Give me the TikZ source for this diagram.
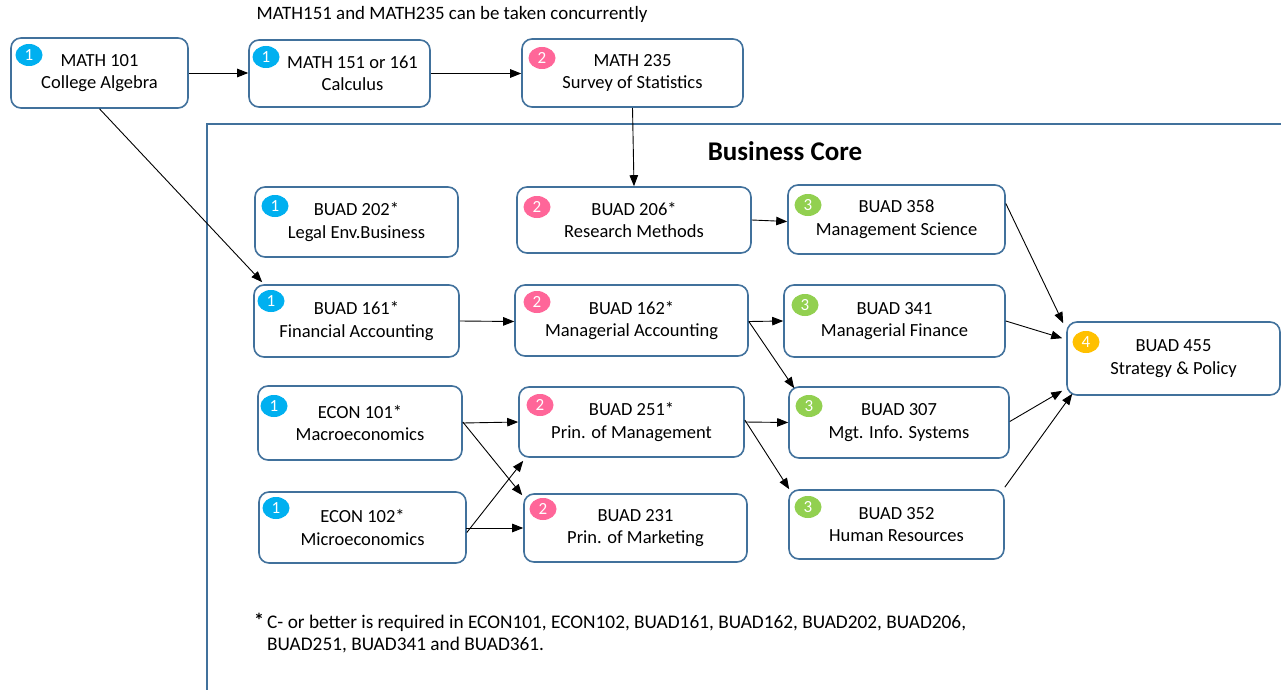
\documentclass[tikz,border=0pt]{standalone}
\usepackage{fontspec}
\setmainfont{Carlito}
\usetikzlibrary{arrows.meta,shapes.geometric}
\definecolor{boxblue}{HTML}{41719C}
\definecolor{bOne}{HTML}{00B0F0}
\definecolor{bTwo}{HTML}{FF6699}
\definecolor{bThree}{HTML}{92D050}
\definecolor{bFour}{HTML}{FFC000}
\tikzset{
  course/.style={draw=boxblue, line width=1.6pt, rounded corners=10pt, fill=white,
    align=center, inner sep=0pt, font=\fontsize{18.5}{22.5}\selectfont},
  badge/.style={ellipse, fill=#1, minimum width=27pt, minimum height=22pt, inner sep=0pt, text=white,
    font=\fontsize{17}{17}\selectfont},
  conn/.style={draw=black, line width=0.9pt, -{Triangle[length=11pt,width=8.5pt]}},
  frame/.style={draw=boxblue, line width=1.6pt}
}
\newcommand{\course}[6]{%
  % #1 name, #2 x1, #3 y1, #4 x2, #5 y2, #6 text
  \node[course, minimum width={#4-#2}, minimum height={#5-#3}] (#1) at ({(#2+#4)/2},{(#3+#5)/2}) {#6};
}
\newcommand{\badgeat}[4]{\node[badge=#2] (#1) at (#3) {#4};}
\begin{document}
\begin{tikzpicture}[x=1pt,y=-1pt]
\useasboundingbox (0,0) rectangle (1281,690);
\fill[white] (0,0) rectangle (1281,690);
% frame
\draw[frame] (1281,124) -- (207,124) -- (207,690);
\node[font=\fontsize{27}{27}\selectfont\bfseries] (title) at (785,151) {Business Core};
\node[font=\fontsize{18.9}{19}\selectfont] (note) at (452,14) {MATH151 and MATH235 can be taken concurrently};

\course{m101}{11}{38}{188}{108}{MATH 101\\College Algebra}
\course{m151}{249}{40}{430}{107}{\hspace*{26pt}MATH 151 or 161\\\hspace*{26pt}Calculus}
\course{m235}{522}{39}{743}{107}{MATH 235\\Survey of Statistics}
\course{b202}{255}{187}{458}{257}{BUAD 202*\\Legal Env.Business}
\course{b206}{517}{187}{751}{253}{BUAD 206*\\Research Methods}
\course{b358}{788}{185}{1005}{254}{BUAD 358\\Management Science}
\course{b161}{254}{285}{459}{357}{BUAD 161*\\Financial Accounting}
\course{b162}{515}{285}{748}{356}{BUAD 162*\\Managerial Accounting}
\course{b341}{784}{285}{1005}{357}{BUAD 341\\Managerial Finance}
\course{b455}{1067}{322}{1280}{395}{BUAD 455\\Strategy \& Policy}
\course{e101}{258}{386}{462}{460}{ECON 101*\\Macroeconomics}
\course{b251}{519}{387}{744}{457}{BUAD 251*\\Prin. of Management}
\course{b307}{789}{387}{1009}{458}{BUAD 307\\Mgt. Info. Systems}
\course{e102}{259}{492}{466}{563}{ECON 102*\\Microeconomics}
\course{b231}{524}{494}{747}{562}{BUAD 231\\Prin. of Marketing}
\course{b352}{789}{490}{1004}{559}{BUAD 352\\Human Resources}

\badgeat{bg1}{bOne}{29,55}{1}
\badgeat{bg2}{bOne}{266,57}{1}
\badgeat{bg3}{bTwo}{542,58}{2}
\badgeat{bg4}{bOne}{275,206}{1}
\badgeat{bg5}{bTwo}{537,207}{2}
\badgeat{bg6}{bThree}{808,205}{3}
\badgeat{bg7}{bOne}{271,301}{1}
\badgeat{bg8}{bTwo}{537,302}{2}
\badgeat{bg9}{bThree}{805,305}{3}
\badgeat{bg10}{bFour}{1086,342}{4}
\badgeat{bg11}{bOne}{274,406}{1}
\badgeat{bg12}{bTwo}{540,405}{2}
\badgeat{bg13}{bThree}{809,406}{3}
\badgeat{bg14}{bOne}{276,508}{1}
\badgeat{bg15}{bTwo}{543,509}{2}
\badgeat{bg16}{bThree}{808,507}{3}

% connectors
\draw[conn] (m101.east) -- (m151.west |- m101.east);
\draw[conn] (m151.east) -- (m235.west |- m151.east);
\draw[conn] (m101.south) -- ([xshift=9pt,yshift=2pt]b161.north west);
\draw[conn] (m235.south) -- (b206.north);
\draw[conn] (b206.east) -- ([yshift=-2pt]b358.west);
\draw[conn] (b161.east) -- ([yshift=-1pt]b162.west);
\draw[conn] ([yshift=-1pt]b162.east) -- (b341.west);
\draw[conn] ([yshift=-1pt]b162.east) -- ([xshift=6pt,yshift=-2pt]b307.north west);
\draw[conn] (e101.east) -- (b251.west);
\draw[conn] ([yshift=1pt]e101.east) -- ([xshift=-1pt,yshift=-2pt]b231.north west);
\draw[conn] ([yshift=-5pt]e102.east) -- ([xshift=5pt,yshift=-3pt]b251.south west);
\draw[conn] ([yshift=-1pt]e102.east) |- (b231.west);
\draw[conn] (b251.east) -- (b307.west);
\draw[conn] ([yshift=2pt]b251.east) -- ([xshift=1pt]b352.north west);
\draw[conn] ([yshift=16pt]b358.east) -- ([xshift=-3pt,yshift=-2pt]b455.north west);
\draw[conn] (b341.east) -- ([xshift=-4pt,yshift=-17pt]b455.north west);
\draw[conn] ([yshift=1pt]b307.east) -- ([xshift=-4pt,yshift=5pt]b455.south west);
\draw[conn] ([yshift=2pt]b352.north east) -- ([xshift=6pt,yshift=2pt]b455.south west);

% footnote
\node[anchor=north west, font=\fontsize{20}{22}\selectfont\bfseries, inner sep=0pt] (star) at (254,613) {*};
\node[anchor=north west, align=left, font=\fontsize{19.3}{22}\selectfont, inner sep=0pt] (foot) at (267,615)
  {C- or better is required in ECON101, ECON102, BUAD161, BUAD162, BUAD202, BUAD206,\\BUAD251, BUAD341 and BUAD361.};
\end{tikzpicture}
\end{document}
